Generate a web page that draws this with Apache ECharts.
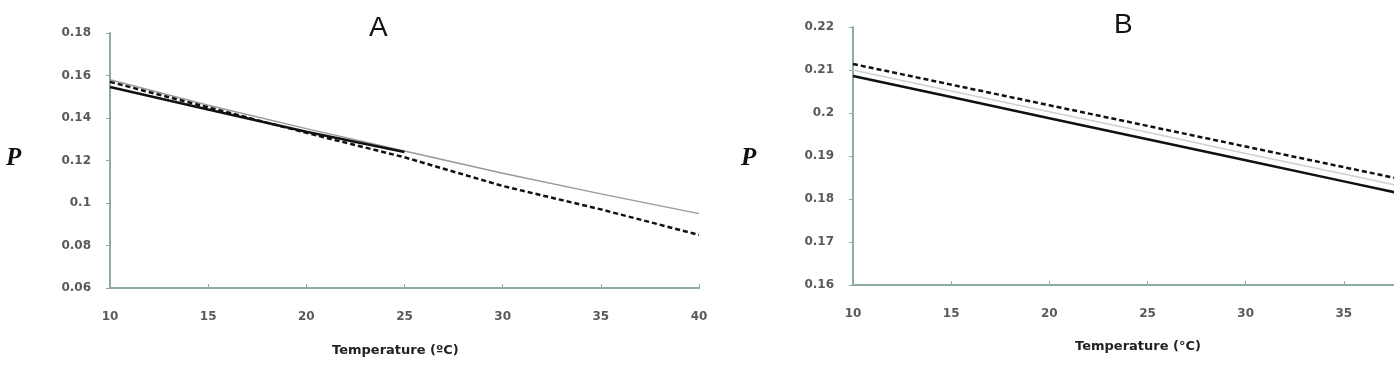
<!DOCTYPE html>
<html><head><meta charset="utf-8">
<script src="https://cdn.jsdelivr.net/npm/echarts@6/dist/echarts.min.js"></script>
<style>html,body{margin:0;padding:0;background:#fff}#c{width:1394px;height:366px}</style>
</head><body><div id="c"></div>
<script>
// Panel A
const tempsA = [10, 15, 20, 25, 30, 35, 40];
const aGray = [0.158, 0.146, 0.135, 0.1245, 0.114, 0.1043, 0.095];
const aDashed = [0.157, 0.145, 0.133, 0.1215, 0.108, 0.097, 0.085];
const tempsASolid = [10, 15, 20, 25];
const aSolid = [0.1546, 0.144, 0.1335, 0.124];
// Panel B
const tempsB = [10, 15, 20, 25, 30, 35, 40];
const bSolid = [0.2086, 0.2037, 0.1988, 0.1939, 0.1890, 0.1841, 0.1792];
const bDashed = [0.2114, 0.2066, 0.2018, 0.1970, 0.1922, 0.1874, 0.1826];
const bGray = [0.2100, 0.2051, 0.2003, 0.1955, 0.1906, 0.1858, 0.1809];

const pair = (xs, ys) => xs.map((x, i) => [x, ys[i]]);
const axisCol = '#8fa9a6';
const lblStyle = {color: '#5a5a5a', fontSize: 12, fontWeight: 'bold', fontFamily: 'DejaVu Sans'};

function xAx(gi) {
  return {type: 'value', gridIndex: gi, min: 10, max: 40, interval: 5,
    axisLine: {lineStyle: {color: axisCol, width: 2}},
    axisTick: {show: true, length: 4, inside: true, lineStyle: {color: axisCol}},
    axisLabel: Object.assign({margin: 23}, lblStyle),
    splitLine: {show: false}};
}
function yAx(gi, min, max, interval) {
  return {type: 'value', gridIndex: gi, min: min, max: max, interval: interval,
    axisLine: {show: true, lineStyle: {color: axisCol, width: 2}},
    axisTick: {show: true, length: 4, lineStyle: {color: axisCol}},
    axisLabel: Object.assign({margin: 19, formatter: v => String(+v.toFixed(2))}, lblStyle),
    splitLine: {show: false}};
}

const chart = echarts.init(document.getElementById('c'));
chart.setOption({
  animation: false,
  backgroundColor: '#fff',
  grid: [
    {left: 110, right: 695, top: 33, bottom: 78, outerBoundsMode: 'none', containLabel: false},
    {left: 853, right: -48, top: 27, bottom: 81, outerBoundsMode: 'none', containLabel: false}
  ],
  xAxis: [xAx(0), xAx(1)],
  yAxis: [yAx(0, 0.06, 0.18, 0.02), yAx(1, 0.16, 0.22, 0.01)],
  graphic: [
    {type: 'text', left: 369, top: 14, style: {text: 'A', font: '28px Liberation Sans', fill: '#111'}},
    {type: 'text', left: 1114, top: 11, style: {text: 'B', font: '28px Liberation Sans', fill: '#111'}},
    {type: 'text', left: 6, top: 146, style: {text: 'P', font: 'bold italic 25px Liberation Serif', fill: '#111'}},
    {type: 'text', left: 741, top: 146, style: {text: 'P', font: 'bold italic 25px Liberation Serif', fill: '#111'}},
    {type: 'text', left: 332, top: 344, style: {text: 'Temperature (ºC)', font: 'bold 13px DejaVu Sans', fill: '#222'}},
    {type: 'text', left: 1075, top: 340, style: {text: 'Temperature (°C)', font: 'bold 13px DejaVu Sans', fill: '#222'}}
  ],
  series: [
    {type: 'line', xAxisIndex: 0, yAxisIndex: 0, data: pair(tempsA, aGray), showSymbol: false,
      lineStyle: {color: '#999', width: 1.5}, z: 2},
    {type: 'line', xAxisIndex: 0, yAxisIndex: 0, data: pair(tempsA, aDashed), showSymbol: false,
      lineStyle: {color: '#111', width: 2.5, type: [5, 3]}, z: 3},
    {type: 'line', xAxisIndex: 0, yAxisIndex: 0, data: pair(tempsASolid, aSolid), showSymbol: false,
      lineStyle: {color: '#111', width: 2.5}, z: 4},
    {type: 'line', xAxisIndex: 1, yAxisIndex: 1, data: pair(tempsB, bGray), showSymbol: false,
      lineStyle: {color: '#d0d0d0', width: 1.5}, z: 2},
    {type: 'line', xAxisIndex: 1, yAxisIndex: 1, data: pair(tempsB, bDashed), showSymbol: false,
      lineStyle: {color: '#111', width: 2.5, type: [5, 3]}, z: 3},
    {type: 'line', xAxisIndex: 1, yAxisIndex: 1, data: pair(tempsB, bSolid), showSymbol: false,
      lineStyle: {color: '#111', width: 2.5}, z: 4}
  ]
});
</script></body></html>
